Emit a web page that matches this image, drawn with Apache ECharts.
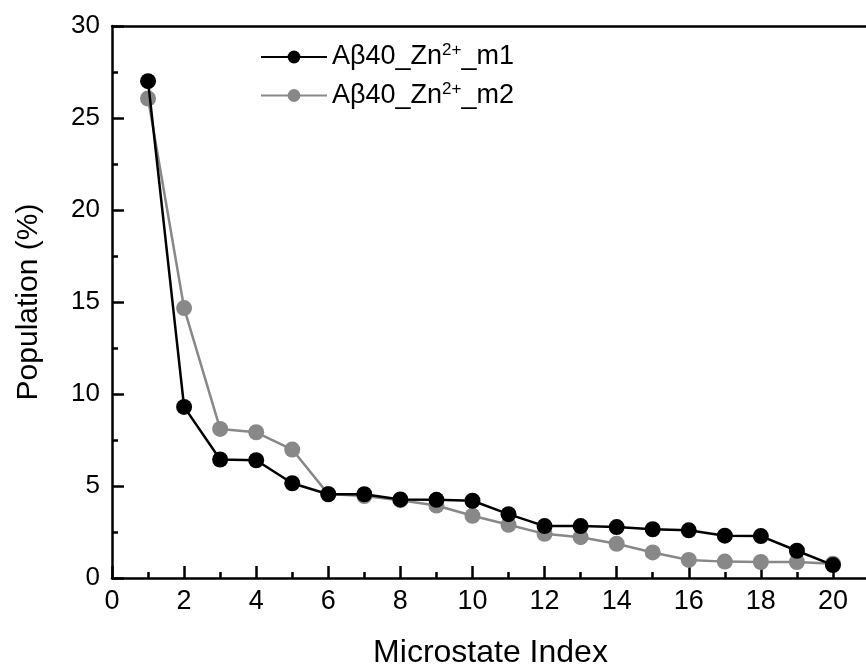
<!DOCTYPE html>
<html><head><meta charset="utf-8">
<script src="https://cdn.jsdelivr.net/npm/echarts@6/dist/echarts.min.js"></script>
<style>html,body{margin:0;padding:0;background:#fff}#c{width:866px;height:668px}</style>
</head><body><div id="c"></div>
<script>
var indices = [1,2,3,4,5,6,7,8,9,10,11,12,13,14,15,16,17,18,19,20];
var m1 = [27.0,9.3,6.44,6.4,5.15,4.55,4.55,4.27,4.25,4.2,3.47,2.82,2.82,2.77,2.65,2.59,2.3,2.28,1.48,0.7];
var m2 = [26.06,14.67,8.1,7.92,6.98,4.56,4.45,4.23,3.94,3.38,2.89,2.4,2.22,1.86,1.39,0.98,0.89,0.87,0.87,0.78];
var names = ['Aβ40_Zn²⁺_m1','Aβ40_Zn²⁺_m2'];
var font = 'Liberation Sans, Arial, sans-serif';
function pairs(v){ return indices.map(function(x,i){return [x,v[i]];}); }
var chart = echarts.init(document.getElementById('c'));
chart.setOption({
  animation:false,
  backgroundColor:'#fff',
  grid:{left:112,top:26,right:-3,bottom:90,containLabel:false,outerBoundsMode:'none'},
  legend:{
    orient:'vertical', left:255, top:37, itemGap:10, itemWidth:66, itemHeight:16,
    textStyle:{fontFamily:font,fontSize:27,color:'#000',
      rich:{a:{fontFamily:font,fontSize:27,color:'#000'},s:{fontFamily:font,fontSize:17,color:'#000',verticalAlign:'top',padding:[0,0,13,0]}}},
    formatter:function(n){ var i=names.indexOf(n); return '{a|Aβ40_Zn}{s|2+}{a|_m'+(i+1)+'}'; },
    data:names
  },
  xAxis:[{
    type:'value', min:0, max:21, interval:2,
    name:'Microstate Index', nameLocation:'middle', nameGap:59,
    nameTextStyle:{fontFamily:font,fontSize:32,color:'#000'},
    axisLine:{lineStyle:{color:'#000',width:2.5}},
    axisTick:{inside:true,length:12,lineStyle:{color:'#000',width:2.5}},
    minorTick:{show:true,splitNumber:2,length:6,lineStyle:{color:'#000',width:2.5}},
    axisLabel:{fontFamily:font,fontSize:27,color:'#000',margin:10,
      formatter:function(v){return v%2===0?String(v):'';}},
    splitLine:{show:false}
  },{
    type:'value', position:'top', min:0, max:21,
    axisLine:{show:true,lineStyle:{color:'#000',width:2.5}},
    axisTick:{show:false}, axisLabel:{show:false}, splitLine:{show:false}
  }],
  yAxis:{
    type:'value', min:0, max:30, interval:5,
    name:'Population (%)', nameLocation:'middle', nameGap:68,
    nameTextStyle:{fontFamily:font,fontSize:30,color:'#000'},
    axisLine:{show:true,lineStyle:{color:'#000',width:2.5}},
    axisTick:{inside:true,length:12,lineStyle:{color:'#000',width:2.5}},
    minorTick:{show:true,splitNumber:2,length:6,lineStyle:{color:'#000',width:2.5}},
    axisLabel:{fontFamily:font,fontSize:26,color:'#000',margin:12},
    splitLine:{show:false}
  },
  series:[
    {name:names[1],type:'line',data:pairs(m2),symbol:'circle',symbolSize:16,
      lineStyle:{color:'#888',width:2.5},itemStyle:{color:'#888'},z:2},
    {name:names[0],type:'line',data:pairs(m1),symbol:'circle',symbolSize:16,
      lineStyle:{color:'#000',width:2.5},itemStyle:{color:'#000'},z:3}
  ]
});
</script></body></html>
